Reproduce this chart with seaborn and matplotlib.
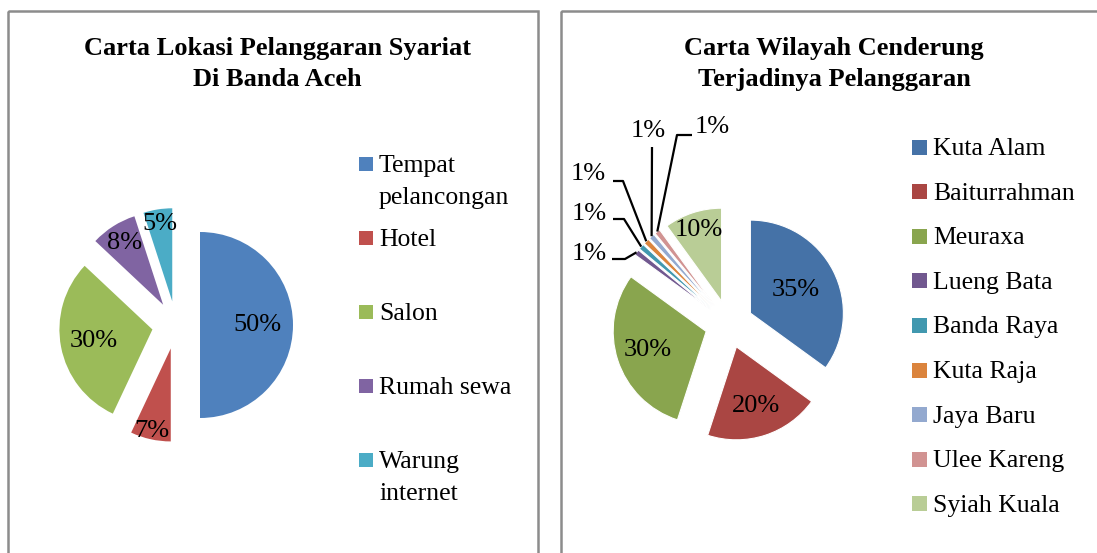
import numpy as np
import matplotlib.pyplot as plt
import seaborn as sns
from matplotlib.patches import Rectangle

# data
lokasi = ['Tempat\npelancongan', 'Hotel', 'Salon', 'Rumah sewa', 'Warung\ninternet']
lokasi_pct = [50, 7, 30, 8, 5]
wilayah = ['Kuta Alam', 'Baiturrahman', 'Meuraxa', 'Lueng Bata', 'Banda Raya',
           'Kuta Raja', 'Jaya Baru', 'Ulee Kareng', 'Syiah Kuala']
wilayah_pct = [35, 20, 30, 1, 1, 1, 1, 1, 10]

warna_kiri = ['#4F81BD', '#C0504D', '#9BBB59', '#8064A2', '#4BACC6']
warna_kanan = ['#4572A7', '#AA4643', '#89A54E', '#71588F', '#4198AF',
               '#DB843D', '#93A9CF', '#D19392', '#B9CD96']

W, H = 1097, 553
R = 93
EXPL = 24

sns.set_theme(style='white')
plt.rcParams['font.family'] = ['Liberation Serif', 'DejaVu Serif']
plt.rcParams['text.color'] = 'black'

fig = plt.figure(figsize=(W / 100, H / 100), dpi=100)
ax = fig.add_axes([0, 0, 1, 1])


def gambar_pie(nilai, warna, pusat, edge):
    # y axis is flipped later, so -90 / counterclock gives 12 o'clock, clockwise
    wedges, _ = ax.pie(nilai, colors=warna, startangle=-90, counterclock=True,
                       explode=[EXPL] * len(nilai), radius=R, center=pusat,
                       wedgeprops=dict(linewidth=edge, edgecolor='white'))
    return wedges


def titik(w, frac):
    tm = np.deg2rad((w.theta1 + w.theta2) / 2)
    cx, cy = w.center
    return cx + frac * w.r * np.cos(tm), cy + frac * w.r * np.sin(tm)


wk = gambar_pie(lokasi_pct, warna_kiri, (176, 325), 0)
wn = gambar_pie(wilayah_pct, warna_kanan, (729, 324), 0.8)

ax.set_xlim(0, W)
ax.set_ylim(H, 0)
ax.set_aspect('auto')
ax.axis('off')

fs_lbl = 19
# labels inside slices, left chart
jarak_kiri = [0.62, 0.91, 0.64, 0.78, 0.84]
for w, p, d in zip(wk, lokasi_pct, jarak_kiri):
    x, y = titik(w, d)
    ax.text(x, y, f'{p}%', ha='center', va='center', fontsize=fs_lbl)

# labels right chart
jarak_kanan = {0: 0.55, 1: 0.67, 2: 0.66, 8: 0.81}
for i, d in jarak_kanan.items():
    x, y = titik(wn[i], d)
    ax.text(x, y, f'{wilayah_pct[i]}%', ha='center', va='center', fontsize=fs_lbl)

# small slices with leader lines
pos_kecil = [(589, 254), (589, 214), (588, 174), (648, 131), (712, 127)]
stub = [((612, 259), (625, 259)), ((613, 219), (624, 219)), ((613, 181), (623, 181)),
        ((652, 147), (652, 147)), ((692, 135), (677, 135))]
for k, i in enumerate(range(3, 8)):
    ex, ey = titik(wn[i], 1.0)
    (x0, y0), (x1, y1) = stub[k]
    ax.plot([x0, x1, ex], [y0, y1, ey], color='black', lw=1.6, solid_capstyle='butt')
    ax.text(*pos_kecil[k], f'{wilayah_pct[i]}%', ha='center', va='center', fontsize=fs_lbl)

# titles
ax.text(277, 37, 'Carta Lokasi Pelanggaran Syariat\nDi Banda Aceh', ha='center', va='top',
        fontsize=19, fontweight='bold', linespacing=1.45)
ax.text(834, 37, 'Carta Wilayah Cenderung\nTerjadinya Pelanggaran', ha='center', va='top',
        fontsize=19, fontweight='bold', linespacing=1.45)

# legends
fs_leg = 18.5
for k, (nama, c) in enumerate(zip(lokasi, warna_kiri)):
    yc = 164 + k * 74
    ax.add_patch(Rectangle((359, yc - 7), 14, 14, color=c, lw=0))
    ax.text(379, yc - 9, nama, ha='left', va='top', fontsize=fs_leg, linespacing=1.6)

for k, (nama, c) in enumerate(zip(wilayah, warna_kanan)):
    yc = 147 + k * 44.6
    ax.add_patch(Rectangle((912, yc - 7.5), 15, 15, color=c, lw=0))
    ax.text(933, yc - 9, nama, ha='left', va='top', fontsize=fs_leg)

# panel frames
for x0, x1 in [(8, 538), (561, 1100)]:
    ax.add_patch(Rectangle((x0, 11), x1 - x0, 600, fill=False, edgecolor='#8C8C8C',
                           lw=1.8, clip_on=False))

fig.savefig('out.png', dpi=100)
